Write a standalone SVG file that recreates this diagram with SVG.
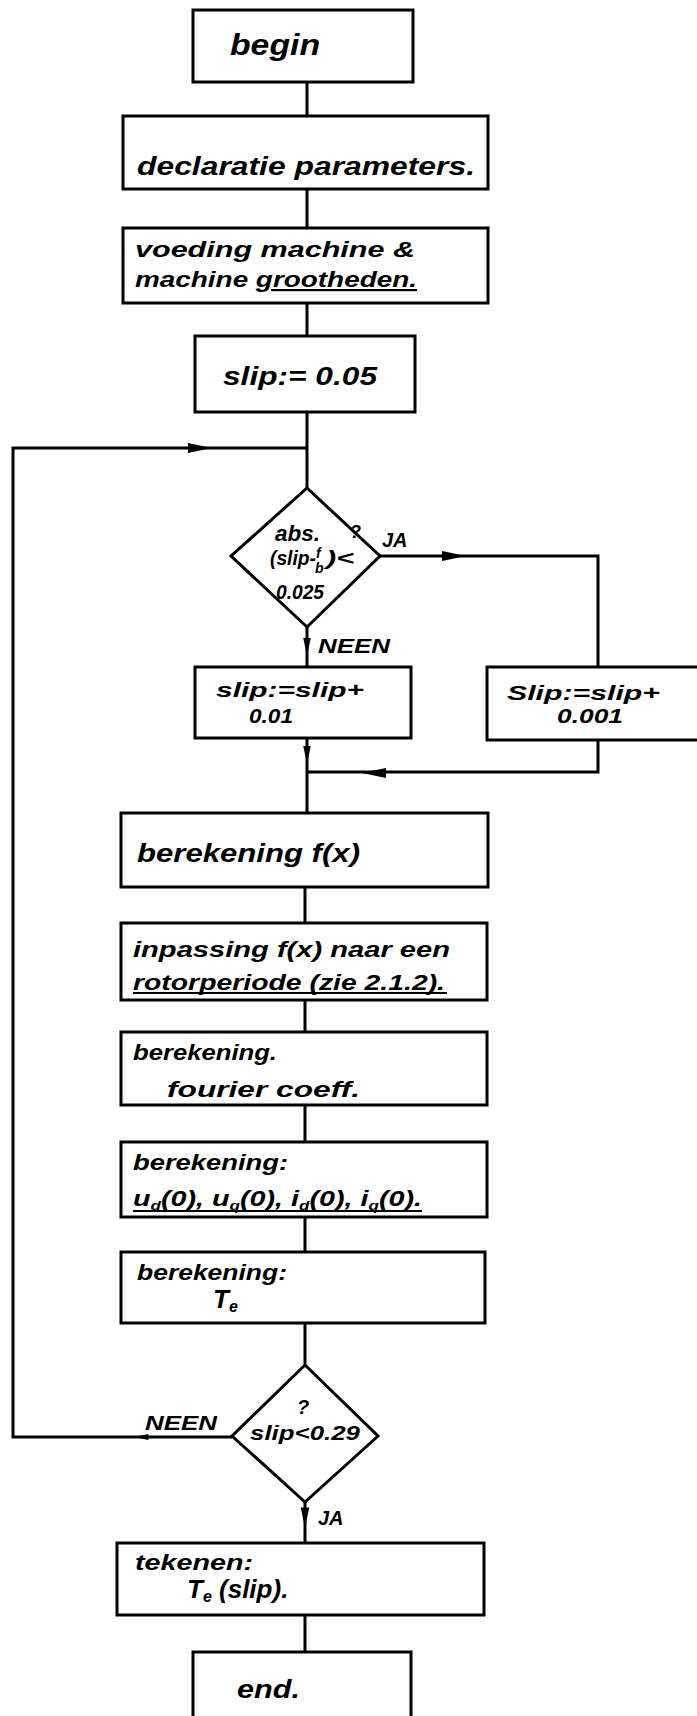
<svg xmlns="http://www.w3.org/2000/svg" width="697" height="1716" viewBox="0 0 697 1716">
<style>
.box{fill:#fff;stroke:#000;stroke-width:3}
.ln{fill:none;stroke:#000;stroke-width:3;stroke-linejoin:miter}
.ul{stroke:#000;stroke-width:2}
text{font-family:"Liberation Sans","DejaVu Sans",sans-serif;font-weight:bold;font-style:italic;fill:#000}
.t26{font-size:26px}
.t22{font-size:22px}
.t20{font-size:20px}
.t18{font-size:18px}
.t14{font-size:14px}
</style>
<defs>
<path id="ah" d="M0,0 L-24,-5 L-24,5 Z" fill="#000"/>
</defs>
<rect width="697" height="1716" fill="#fff"/>
<g id="connectors">
<path class="ln" d="M307,82 V116 M307,189 V228 M307,303 V336 M307,412 V488"/>
<path class="ln" d="M232,1437 H13 V448 H307"/>
<path class="ln" d="M380,556 H598 V667"/>
<path class="ln" d="M307,627 V667 M307,738 V813"/>
<path class="ln" d="M598,740 V772 H307"/>
<path class="ln" d="M305,887 V923 M305,1000 V1032 M305,1105 V1142 M305,1217 V1252 M305,1323 V1365 M305,1502 V1543 M305,1615 V1652"/>
<use href="#ah" transform="translate(212,448)"/>
<use href="#ah" transform="translate(466,556)"/>
<use href="#ah" transform="translate(307,656) rotate(90) scale(0.75)"/>
<use href="#ah" transform="translate(307,764) rotate(90) scale(0.75)"/>
<use href="#ah" transform="translate(362,773) rotate(180)"/>
<use href="#ah" transform="translate(134,1437) rotate(180) scale(0.6)"/>
<use href="#ah" transform="translate(305,1528) rotate(90) scale(0.85)"/>
<text class="t20" x="382" y="547">JA</text>
<text class="t20" x="318" y="653" textLength="72" lengthAdjust="spacingAndGlyphs">NEEN</text>
<text class="t20" x="145" y="1430" textLength="72" lengthAdjust="spacingAndGlyphs">NEEN</text>
<text class="t20" x="318" y="1525">JA</text>
</g>
<g id="begin">
<rect class="box" x="193" y="10" width="220" height="72"/>
<text x="230" y="55" textLength="90" lengthAdjust="spacingAndGlyphs" font-size="30">begin</text>
</g>
<g id="declaratie">
<rect class="box" x="123" y="116" width="365" height="73"/>
<text class="t26" x="137" y="175" textLength="338" lengthAdjust="spacingAndGlyphs">declaratie parameters.</text>
</g>
<g id="voeding">
<rect class="box" x="123" y="228" width="365" height="75"/>
<text class="t22" x="135" y="257" textLength="280" lengthAdjust="spacingAndGlyphs">voeding machine  &amp;</text>
<text class="t22" x="135" y="287" textLength="282" lengthAdjust="spacingAndGlyphs">machine <tspan text-decoration="underline">grootheden.</tspan></text>
</g>
<g id="slip005">
<rect class="box" x="195" y="336" width="220" height="76"/>
<text class="t26" x="223" y="385" textLength="154" lengthAdjust="spacingAndGlyphs">slip:= 0.05</text>
</g>
<g id="cond1">
<path class="box" d="M307,488 L380,556 L307,627 L231,556 Z"/>
<text x="275" y="541" font-size="22" textLength="45" lengthAdjust="spacingAndGlyphs">abs.</text>
<text class="t18" x="350" y="538">?</text>
<text x="270" y="565" font-size="20" textLength="46" lengthAdjust="spacingAndGlyphs">(slip-</text>
<text class="t14" x="316" y="558">f</text>
<text class="t14" x="315" y="573">b</text>
<text x="326" y="565" font-size="20" textLength="28" lengthAdjust="spacingAndGlyphs">)&lt;</text>
<text x="276" y="599" font-size="20" textLength="48" lengthAdjust="spacingAndGlyphs">0.025</text>
</g>
<g id="inc1">
<rect class="box" x="195" y="667" width="216" height="71"/>
<text class="t20" x="216" y="697" textLength="148" lengthAdjust="spacingAndGlyphs">slip:=slip+</text>
<text class="t20" x="249" y="723" textLength="44" lengthAdjust="spacingAndGlyphs">0.01</text>
</g>
<g id="inc2">
<rect class="box" x="487" y="667" width="220" height="73"/>
<text class="t20" x="507" y="700" textLength="153" lengthAdjust="spacingAndGlyphs">Slip:=slip+</text>
<text class="t20" x="557" y="723" textLength="66" lengthAdjust="spacingAndGlyphs">0.001</text>
</g>
<g id="fx">
<rect class="box" x="121" y="813" width="367" height="74"/>
<text class="t26" x="137" y="862" textLength="223" lengthAdjust="spacingAndGlyphs">berekening f(x)</text>
</g>
<g id="inpassing">
<rect class="box" x="121" y="923" width="366" height="77"/>
<text class="t22" x="133" y="957" textLength="317" lengthAdjust="spacingAndGlyphs">inpassing f(x) naar een</text>
<text class="t22" x="133" y="990" textLength="312" lengthAdjust="spacingAndGlyphs">rotorperiode (zie 2.1.2).</text>
<line class="ul" x1="133" y1="993" x2="447" y2="993"/>
</g>
<g id="fourier">
<rect class="box" x="121" y="1032" width="366" height="73"/>
<text class="t22" x="133" y="1060" textLength="144" lengthAdjust="spacingAndGlyphs">berekening.</text>
<text class="t22" x="167" y="1097" textLength="193" lengthAdjust="spacingAndGlyphs">fourier coeff.</text>
</g>
<g id="uqid">
<rect class="box" x="121" y="1142" width="366" height="75"/>
<text class="t22" x="133" y="1170" textLength="155" lengthAdjust="spacingAndGlyphs">berekening:</text>
<text class="t22" x="133" y="1206" textLength="289" lengthAdjust="spacingAndGlyphs">u<tspan font-size="13" dy="4">d</tspan><tspan dy="-4">(0), u</tspan><tspan font-size="13" dy="4">q</tspan><tspan dy="-4">(0), i</tspan><tspan font-size="13" dy="4">d</tspan><tspan dy="-4">(0), i</tspan><tspan font-size="13" dy="4">q</tspan><tspan dy="-4">(0).</tspan></text>
<line class="ul" x1="133" y1="1211" x2="422" y2="1211"/>
</g>
<g id="te">
<rect class="box" x="121" y="1252" width="364" height="71"/>
<text class="t22" x="137" y="1280" textLength="150" lengthAdjust="spacingAndGlyphs">berekening:</text>
<text class="t26" x="213" y="1308">T<tspan font-size="16" dy="4">e</tspan></text>
</g>
<g id="cond2">
<path class="box" d="M305,1365 L378,1436 L305,1502 L232,1436 Z"/>
<text class="t20" x="297" y="1414">?</text>
<text class="t20" x="250" y="1440" textLength="110" lengthAdjust="spacingAndGlyphs">slip&lt;0.29</text>
</g>
<g id="tekenen">
<rect class="box" x="117" y="1543" width="367" height="72"/>
<text class="t22" x="135" y="1570" textLength="118" lengthAdjust="spacingAndGlyphs">tekenen:</text>
<text class="t26" x="187" y="1598">T<tspan font-size="16" dy="4">e</tspan><tspan dy="-4"> (slip).</tspan></text>
</g>
<g id="end">
<rect class="box" x="193" y="1652" width="218" height="90"/>
<text class="t26" x="237" y="1698" textLength="63" lengthAdjust="spacingAndGlyphs">end.</text>
</g>
</svg>
